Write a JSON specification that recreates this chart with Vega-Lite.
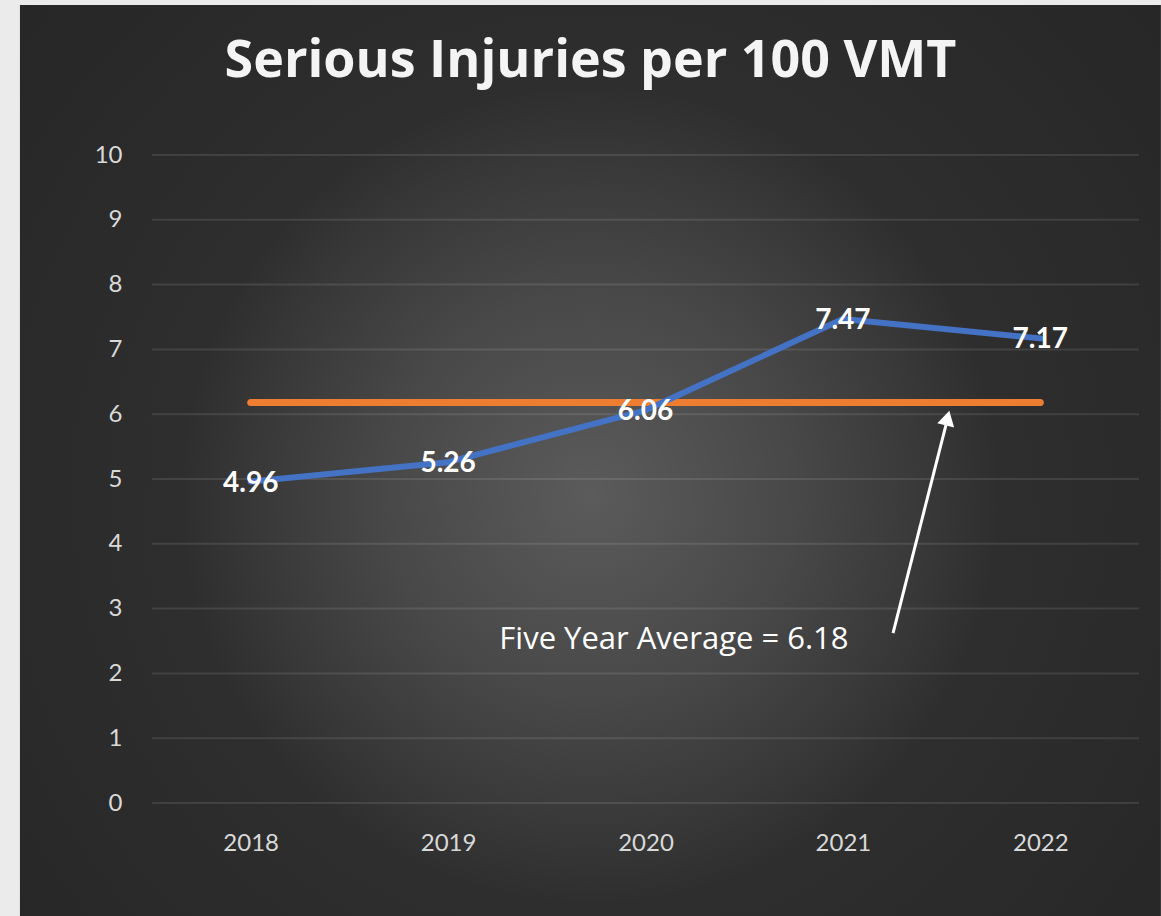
{
  "$schema": "https://vega.github.io/schema/vega-lite/v6.json",
  "width": 987,
  "height": 648,
  "autosize": {"type": "none"},
  "padding": {"left": 152, "top": 155, "right": 22, "bottom": 113},
  "background": "#ebebeb",
  "title": {
    "text": "Serious Injuries per 100 VMT",
    "font": "Open Sans",
    "fontSize": 52,
    "fontWeight": "bold",
    "color": "#f4f4f4",
    "anchor": "middle",
    "dx": -55,
    "offset": 0,
    "dy": 124,
    "baseline": "alphabetic"
  },
  "config": {"view": {"stroke": null}},
  "datasets": {
    "bg": [{"x1": 2016.831, "x2": 2022.611, "y1": -1.744, "y2": 12.315}],
    "grid": [{"v": 0}, {"v": 1}, {"v": 2}, {"v": 3}, {"v": 4}, {"v": 5}, {"v": 6}, {"v": 7}, {"v": 8}, {"v": 9}, {"v": 10}],
    "avg": [{"year": 2018, "v": 6.18}, {"year": 2022, "v": 6.18}],
    "main": [
      {"year": 2018, "v": 4.96},
      {"year": 2019, "v": 5.26},
      {"year": 2020, "v": 6.06},
      {"year": 2021, "v": 7.47},
      {"year": 2022, "v": 7.17}
    ],
    "arrow": [{"x": 2021.254, "y": 2.623, "x2": 2021.522, "y2": 5.833}],
    "head": [{"x": 2021.53, "y": 5.941}],
    "note": [{"x": 2020.144, "y": 2.515, "t": "Five Year Average = 6.18"}]
  },
  "layer": [
    {
      "data": {"name": "bg"},
      "mark": {
        "type": "rect",
        "fill": {
          "gradient": "radial",
          "x1": 0.5, "y1": 0.53, "r1": 0,
          "x2": 0.5, "y2": 0.53, "r2": 0.72,
          "stops": [
            {"offset": 0, "color": "#5b5b5b"},
            {"offset": 0.25, "color": "#484848"},
            {"offset": 0.42, "color": "#373737"},
            {"offset": 0.5, "color": "#2e2e2e"},
            {"offset": 1, "color": "#252525"}
          ]
        },
        "strokeWidth": 0
      },
      "encoding": {
        "x": {
          "field": "x1", "type": "quantitative",
          "scale": {"domain": [2017.5, 2022.5], "nice": false, "zero": false},
          "axis": {
            "values": [2018, 2019, 2020, 2021, 2022],
            "format": "d",
            "grid": false, "domain": false, "ticks": false,
            "labelFont": "Lato", "labelFontSize": 24, "labelColor": "#d9d9d9",
            "labelPadding": 28, "title": null, "zindex": 1
          }
        },
        "x2": {"field": "x2"},
        "y": {
          "field": "y1", "type": "quantitative",
          "scale": {"domain": [0, 10], "nice": false, "zero": false},
          "axis": {
            "values": [0, 1, 2, 3, 4, 5, 6, 7, 8, 9, 10],
            "format": "d",
            "grid": false, "domain": false, "ticks": false,
            "labelFont": "Lato", "labelFontSize": 24, "labelColor": "#d9d9d9",
            "labelPadding": 30, "title": null, "zindex": 1
          }
        },
        "y2": {"field": "y2"}
      }
    },
    {
      "data": {"name": "grid"},
      "mark": {"type": "rule", "color": "#ffffff", "opacity": 0.1, "strokeWidth": 2},
      "encoding": {
        "y": {"field": "v", "type": "quantitative", "scale": {"domain": [0, 10], "nice": false, "zero": false}}
      }
    },
    {
      "data": {"name": "avg"},
      "mark": {"type": "line", "color": "#ED7D31", "strokeWidth": 7, "strokeCap": "round"},
      "encoding": {
        "x": {"field": "year", "type": "quantitative", "scale": {"domain": [2017.5, 2022.5], "nice": false, "zero": false}},
        "y": {"field": "v", "type": "quantitative", "scale": {"domain": [0, 10], "nice": false, "zero": false}}
      }
    },
    {
      "data": {"name": "main"},
      "mark": {"type": "line", "color": "#4472C4", "strokeWidth": 6, "strokeCap": "round", "strokeJoin": "round"},
      "encoding": {
        "x": {"field": "year", "type": "quantitative", "scale": {"domain": [2017.5, 2022.5], "nice": false, "zero": false}},
        "y": {"field": "v", "type": "quantitative", "scale": {"domain": [0, 10], "nice": false, "zero": false}}
      }
    },
    {
      "data": {"name": "main"},
      "mark": {"type": "text", "font": "Lato", "fontSize": 28, "fontWeight": "bold", "color": "#ffffff", "baseline": "middle", "align": "center", "dy": 2},
      "encoding": {
        "x": {"field": "year", "type": "quantitative", "scale": {"domain": [2017.5, 2022.5], "nice": false, "zero": false}},
        "y": {"field": "v", "type": "quantitative", "scale": {"domain": [0, 10], "nice": false, "zero": false}},
        "text": {"field": "v", "type": "quantitative", "format": ".2f"}
      }
    },
    {
      "data": {"name": "arrow"},
      "mark": {"type": "rule", "color": "#ffffff", "strokeWidth": 3},
      "encoding": {
        "x": {"field": "x", "type": "quantitative", "scale": {"domain": [2017.5, 2022.5], "nice": false, "zero": false}},
        "y": {"field": "y", "type": "quantitative", "scale": {"domain": [0, 10], "nice": false, "zero": false}},
        "x2": {"field": "x2"},
        "y2": {"field": "y2"}
      }
    },
    {
      "data": {"name": "head"},
      "mark": {"type": "point", "shape": "triangle-up", "filled": true, "color": "#ffffff", "opacity": 1, "size": 300, "angle": 14},
      "encoding": {
        "x": {"field": "x", "type": "quantitative", "scale": {"domain": [2017.5, 2022.5], "nice": false, "zero": false}},
        "y": {"field": "y", "type": "quantitative", "scale": {"domain": [0, 10], "nice": false, "zero": false}}
      }
    },
    {
      "data": {"name": "note"},
      "mark": {"type": "text", "font": "Open Sans", "fontSize": 31, "color": "#ffffff", "baseline": "middle", "align": "center"},
      "encoding": {
        "x": {"field": "x", "type": "quantitative", "scale": {"domain": [2017.5, 2022.5], "nice": false, "zero": false}},
        "y": {"field": "y", "type": "quantitative", "scale": {"domain": [0, 10], "nice": false, "zero": false}},
        "text": {"field": "t"}
      }
    }
  ]
}
